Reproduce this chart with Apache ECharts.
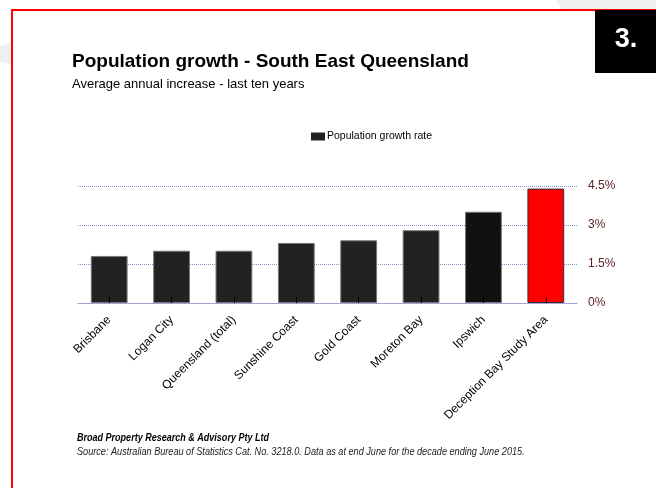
<!DOCTYPE html>
<html>
<head>
<meta charset="utf-8">
<script src="https://cdn.jsdelivr.net/npm/echarts@6/dist/echarts.min.js"></script>
<style>
  html, body { margin: 0; padding: 0; background: #fff; }
  #chart { width: 656px; height: 488px; }
</style>
</head>
<body>
<div id="chart"></div>
<script>
  // 数据
  const regions = ['Brisbane', 'Logan City', 'Queensland (total)', 'Sunshine Coast', 'Gold Coast', 'Moreton Bay', 'Ipswich', 'Deception Bay Study Area']
  const growthRate = [1.81, 2.01, 2.01, 2.31, 2.41, 2.80, 3.51, 4.40]
  const barColors = ['#222222', '#222222', '#222222', '#222222', '#222222', '#222222', '#111111', '#ff0000']
  const yTicks = [0, 1.5, 3, 4.5]

  const arial = "'Liberation Sans', Arial, sans-serif"

  const myChart = echarts.init(document.querySelector('#chart'))

  const option = {
    backgroundColor: '#fff',
    animation: false,
    title: [
      {
        text: 'Population growth - South East Queensland',
        left: 67,
        top: 47,
        textStyle: { fontFamily: arial, fontSize: 19, fontWeight: 'bold', color: '#000' }
      },
      {
        text: 'Average annual increase - last ten years',
        left: 67,
        top: 73,
        textStyle: { fontFamily: arial, fontSize: 13, fontWeight: 'normal', color: '#000' }
      }
    ],
    graphic: [
      // 背景浅灰
      {
        type: 'polygon',
        shape: { points: [[556, 0], [656, 0], [656, 10], [562, 10]] },
        style: { fill: '#efefef' },
        z: 0
      },
      {
        type: 'polygon',
        shape: { points: [[0, 46], [12, 42], [12, 64], [0, 62]] },
        style: { fill: '#f0f0f0' },
        z: 0
      },
      // 红色边框
      {
        type: 'rect',
        shape: { x: 12, y: 10, width: 700, height: 600 },
        style: { fill: 'none', stroke: '#ff0000', lineWidth: 2 },
        z: 1
      },
      // 右上角编号
      {
        type: 'rect',
        shape: { x: 595, y: 10, width: 61, height: 63 },
        style: { fill: '#000' },
        z: 2
      },
      {
        type: 'text',
        x: 626,
        y: 40,
        style: {
          text: '3.',
          fill: '#fff',
          font: "bold 27px 'Liberation Sans', Arial, sans-serif",
          align: 'center',
          verticalAlign: 'middle'
        },
        z: 3
      },
      // 脚注 (窄字体用 scaleX 模拟)
      {
        type: 'text',
        x: 77,
        y: 438,
        scaleX: 0.82,
        style: {
          text: 'Broad Property Research & Advisory Pty Ltd',
          fill: '#000',
          font: "italic bold 11px 'Liberation Sans', Arial, sans-serif",
          verticalAlign: 'middle'
        },
        z: 3
      },
      {
        type: 'text',
        x: 77,
        y: 452,
        scaleX: 0.83,
        style: {
          text: 'Source: Australian Bureau of Statistics Cat. No. 3218.0. Data as at end June for the decade ending June 2015.',
          fill: '#222',
          font: "italic 11px 'Liberation Sans', Arial, sans-serif",
          verticalAlign: 'middle'
        },
        z: 3
      }
    ],
    legend: {
      left: 306,
      top: 126,
      icon: 'rect',
      itemWidth: 14,
      itemHeight: 8,
      itemGap: 2,
      itemStyle: { borderWidth: 0 },
      textStyle: { fontFamily: arial, fontSize: 10.5, color: '#000', padding: [0, 0, 0, -3] },
      data: ['Population growth rate']
    },
    grid: {
      left: 78,
      right: 79,
      top: 186,
      bottom: 185
    },
    xAxis: {
      type: 'category',
      data: regions,
      z: 5,
      axisLine: { lineStyle: { color: '#9090c8', type: 'dotted', width: 1 } },
      axisTick: { show: true, inside: true, length: 6, alignWithLabel: true, lineStyle: { color: '#000' } },
      axisLabel: {
        interval: 0,
        rotate: 45,
        margin: 15,
        fontFamily: arial,
        fontSize: 12,
        color: '#000'
      }
    },
    yAxis: {
      type: 'value',
      position: 'right',
      min: yTicks[0],
      max: yTicks[yTicks.length - 1],
      interval: 1.5,
      axisLine: { show: false },
      axisTick: { show: false },
      axisLabel: {
        margin: 11,
        fontFamily: arial,
        fontSize: 12,
        color: '#5a1f1f',
        formatter: v => v + '%'
      },
      splitLine: { lineStyle: { color: '#9090c8', type: 'dotted', width: 1 } }
    },
    series: [
      {
        name: 'Population growth rate',
        type: 'bar',
        barWidth: '59%',
        itemStyle: { color: '#222222', borderColor: '#777', borderWidth: 1 },
        data: growthRate.map((v, i) => ({
          value: v,
          itemStyle: { color: barColors[i], borderColor: i === 7 ? '#333' : '#777' }
        }))
      }
    ]
  }

  myChart.setOption(option)
</script>
</body>
</html>
